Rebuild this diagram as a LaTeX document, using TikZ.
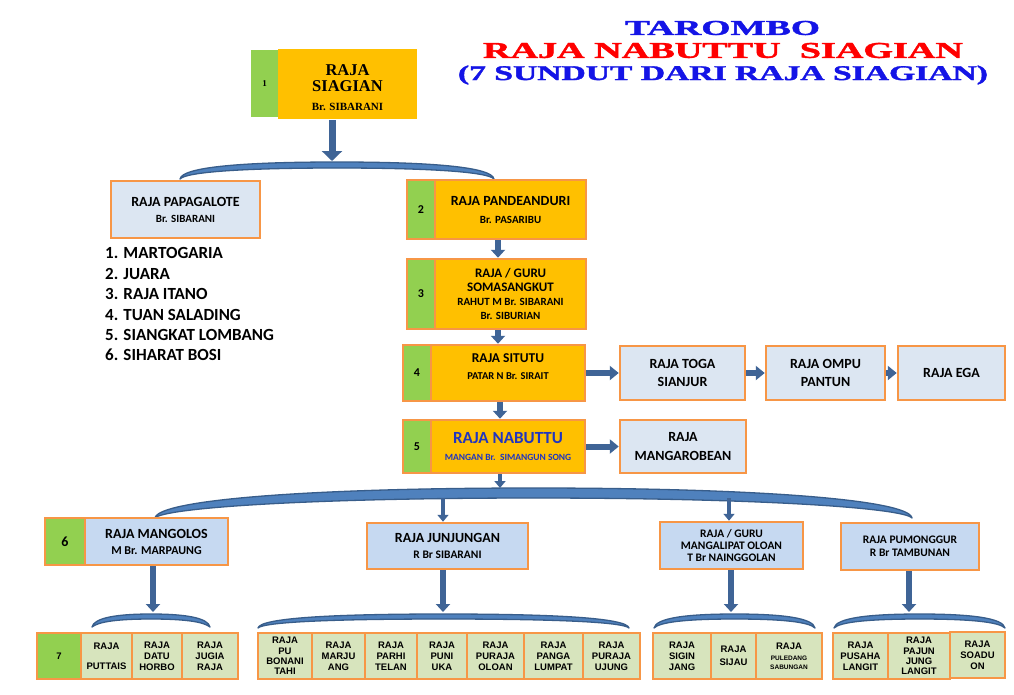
\documentclass[tikz,border=0pt]{standalone}
\usepackage{fontspec}
\usepackage{graphicx}
\setmainfont{Carlito}
\newfontfamily\serif{Liberation Serif}
\newfontfamily\arial{Liberation Sans}
\newfontfamily\titlefont[BoldFeatures={FakeBold=1.5}]{Liberation Serif}
\usetikzlibrary{arrows.meta}
\definecolor{orfill}{HTML}{FFC000}
\definecolor{grfill}{HTML}{92D050}
\definecolor{bord}{HTML}{F79646}
\definecolor{ltblue}{HTML}{DCE6F2}
\definecolor{mdblue}{HTML}{C6D9F1}
\definecolor{leafgr}{HTML}{D7E4BD}
\definecolor{arrblue}{HTML}{3F6496}
\definecolor{brdark}{HTML}{385D8A}
\definecolor{brlight}{HTML}{4F81BD}
\definecolor{titleblue}{HTML}{1414E6}
\definecolor{titlered}{HTML}{FF0000}
\definecolor{nabblue}{HTML}{2035C0}
\begin{document}
\begin{tikzpicture}[x=1pt,y=-1pt,
  box/.style={draw=bord, line width=2.5pt, inner sep=1pt, align=center, font=\bfseries},
  orbox/.style={box, fill=orfill},
  numbox/.style={box, fill=grfill},
  lbbox/.style={box, fill=ltblue},
  mbbox/.style={box, fill=mdblue},
  leaf/.style={box, fill=leafgr, minimum height=46pt, font=\arial\bfseries\fontsize{9.5}{10.8}\selectfont},
  bigarrow/.style={line width=7pt, draw=arrblue, -{Triangle[width=20pt,length=10pt]}},
  varrow/.style={line width=6pt, draw=arrblue, -{Triangle[width=14pt,length=8pt]}},
  harrow/.style={line width=6pt, draw=arrblue, -{Triangle[width=14pt,length=9pt]}},
  sarrow/.style={line width=4.5pt, draw=arrblue, -{Triangle[width=11pt,length=7pt]}},
  brk/.style={fill=brlight, draw=brdark, line width=1.3pt, line join=round}
]
\useasboundingbox (0,0) rectangle (1014,694);
\fill[white] (0,0) rectangle (1014,694);

% title
\node[inner sep=0pt, text=titleblue] (t1) at (722.5,28) {\resizebox{195pt}{14pt}{\titlefont\bfseries TAROMBO}};
\node[inner sep=0pt, text=titlered] (t2) at (723,50.5) {\resizebox{480pt}{15pt}{\titlefont\bfseries RAJA NABUTTU\ \ SIAGIAN}};
\node[inner sep=0pt, text=titleblue] (t3) at (723,75) {\resizebox*{530pt}{19pt}{\titlefont\bfseries (7 SUNDUT DARI RAJA SIAGIAN)}};

% generation 1
\node[numbox, draw=none, minimum width=27pt, minimum height=67pt] (g1) at (264.5,83.5) {\serif\fontsize{9}{10}\selectfont 1};
\node[orbox, draw=none, minimum width=139pt, minimum height=70pt, font=\bfseries\serif\fontsize{16.5}{16}\selectfont] (n1) at (347.5,84) {\mbox{}\\[3pt]RAJA\\SIAGIAN\\[3pt]{\fontsize{11}{12}\selectfont Br. SIBARANI}};

% top bracket
\draw[brk] (180,179) .. controls (182,167) and (242.8,162) .. (337,162) .. controls (431.2,162) and (492,167) .. (494,179) .. controls (488,172) and (431.2,168) .. (337,168) .. controls (242.8,168) and (186,172) .. cycle;
\coordinate (tb) at (332,161);
\draw[bigarrow] ([xshift=-15.5pt]n1.south) -- (tb);

% generation 2
\node[lbbox, minimum width=149pt, minimum height=57pt, font=\bfseries\fontsize{14}{16}\selectfont] (pap) at (185.5,209.5) {RAJA PAPAGALOTE\\{\fontsize{11}{13}\selectfont Br. SIBARANI}};
\node[anchor=north west, inner sep=0pt, align=left, font=\bfseries\fontsize{17}{20.4}\selectfont] (list) at (105,247.5) {1. MARTOGARIA\\2. JUARA\\3. RAJA ITANO\\4. TUAN SALADING\\5. SIANGKAT LOMBANG\\6. SIHARAT BOSI};

\node[numbox, minimum width=28pt, minimum height=59pt] (g2) at (421,209.5) {\fontsize{12}{14}\selectfont 2};
\node[orbox, minimum width=151pt, minimum height=59pt, font=\bfseries\fontsize{14}{18}\selectfont] (n2) at (510.5,209.5) {RAJA PANDEANDURI\\{\fontsize{11}{13}\selectfont Br. PASARIBU}};

% generation 3
\node[numbox, minimum width=28pt, minimum height=70pt] (g3) at (421,294) {\fontsize{12}{14}\selectfont 3};
\node[orbox, minimum width=151pt, minimum height=70pt, font=\bfseries\fontsize{13}{14.3}\selectfont] (n3) at (510.5,294) {RAJA / GURU\\SOMASANGKUT\\{\fontsize{11}{12}\selectfont RAHUT M Br. SIBARANI}\\{\fontsize{11}{12}\selectfont Br. SIBURIAN}};

% generation 4
\node[numbox, minimum width=28pt, minimum height=56pt] (g4) at (417,373) {\fontsize{12}{14}\selectfont 4};
\node[orbox, minimum width=154pt, minimum height=56pt, font=\bfseries\fontsize{13.5}{17}\selectfont] (n4) at (508,373) {RAJA SITUTU\\{\fontsize{10.5}{12}\selectfont PATAR N Br. SIRAIT}\\[-4pt]\mbox{}};
\node[lbbox, minimum width=125pt, minimum height=54pt, font=\bfseries\fontsize{14}{18}\selectfont] (toga) at (682.5,373) {RAJA TOGA\\SIANJUR};
\node[lbbox, minimum width=119pt, minimum height=54pt, font=\bfseries\fontsize{14}{18}\selectfont] (ompu) at (825.5,373) {RAJA OMPU\\PANTUN};
\node[lbbox, minimum width=107pt, minimum height=54pt, font=\bfseries\fontsize{14}{18}\selectfont] (ega) at (951.5,373) {RAJA EGA};

% generation 5
\node[numbox, minimum width=28pt, minimum height=53pt] (g5) at (417,446.5) {\fontsize{12}{14}\selectfont 5};
\node[orbox, minimum width=154pt, minimum height=53pt, text=nabblue, font=\bfseries\fontsize{17}{17}\selectfont] (n5) at (508,446.5) {RAJA NABUTTU\\{\fontsize{9.5}{11}\selectfont MANGAN Br.\ \ SIMANGUN SONG}};
\node[lbbox, minimum width=126pt, minimum height=53pt, font=\bfseries\fontsize{14}{19}\selectfont] (mgr) at (683,446.5) {RAJA\\MANGAROBEAN};

% connectors of the main line
\draw[varrow] ([xshift=-12.5pt]n2.south) -- ([xshift=-12.5pt]n3.north);
\draw[varrow] ([xshift=-12.5pt]n3.south) -- ([xshift=-10pt]n4.north);
\draw[varrow] ([xshift=-8pt]n4.south) -- ([xshift=-8pt]n5.north);
\draw[harrow] (n4.east) -- (toga.west);
\draw[harrow] (toga.east) -- (ompu.west);
\draw[harrow] (ompu.east) -- (ega.west);
\draw[harrow] (n5.east) -- (mgr.west);

% big bracket
\draw[brk] (155,518) .. controls (158,500) and (306,488) .. (533.5,488) .. controls (761,488) and (909,500) .. (912,518) .. controls (903,508) and (761,498) .. (533.5,498) .. controls (306,498) and (164,508) .. cycle;
\coordinate (bb) at (500,488);
\draw[sarrow] ([xshift=-8pt]n5.south) -- (bb);

% generation 6
\node[numbox, minimum width=40pt, minimum height=47pt] (g6) at (65,541.5) {\fontsize{14}{16}\selectfont 6};
\node[mbbox, minimum width=143pt, minimum height=47pt, font=\bfseries\fontsize{14}{16}\selectfont] (mgl) at (156.5,541.5) {RAJA MANGOLOS\\{\fontsize{12}{14}\selectfont M Br. MARPAUNG}};
\node[mbbox, minimum width=161pt, minimum height=46pt, font=\bfseries\fontsize{14}{16}\selectfont] (jun) at (447.5,546) {RAJA JUNJUNGAN\\{\fontsize{11.5}{13}\selectfont R Br SIBARANI}};
\node[mbbox, minimum width=143pt, minimum height=47pt, font=\bfseries\fontsize{11.5}{12.3}\selectfont] (mlp) at (731.5,545.5) {RAJA / GURU\\MANGALIPAT OLOAN\\T Br NAINGGOLAN};
\node[mbbox, minimum width=138pt, minimum height=47pt, font=\bfseries\fontsize{11.5}{13.5}\selectfont] (pmg) at (910,546.5) {RAJA PUMONGGUR\\R Br TAMBUNAN};

\coordinate (bj) at (443,498);
\coordinate (bm) at (729,498);
\draw[sarrow] (bj) -- ([xshift=-4.5pt]jun.north);
\draw[sarrow] (bm) -- ([xshift=-2.5pt]mlp.north);

% small brackets
\draw[brk] (92,627) .. controls (94,618) and (115.6,614) .. (151,614) .. controls (186.4,614) and (208,618) .. (210,627) .. controls (204,622) and (186.4,619) .. (151,619) .. controls (115.6,619) and (98,622) .. cycle;
\draw[brk] (258,628) .. controls (260,618) and (332.2,614) .. (443.5,614) .. controls (554.8,614) and (627,618) .. (629,628) .. controls (623,622) and (554.8,619) .. (443.5,619) .. controls (332.2,619) and (264,622) .. cycle;
\draw[brk] (654,628) .. controls (656,618) and (686.2,614) .. (734.5,614) .. controls (782.8,614) and (813,618) .. (815,628) .. controls (809,622) and (782.8,619) .. (734.5,619) .. controls (686.2,619) and (660,622) .. cycle;
\draw[brk] (834,628) .. controls (836,618) and (868.2,614) .. (919.5,614) .. controls (970.8,614) and (1003,618) .. (1005,628) .. controls (999,622) and (970.8,619) .. (919.5,619) .. controls (868.2,619) and (840,622) .. cycle;

\coordinate (s1) at (153,612);
\coordinate (s2) at (443,612);
\coordinate (s3) at (731,612);
\coordinate (s4) at (909,612);
\draw[varrow] ([xshift=-3.5pt]mgl.south) -- (s1);
\draw[varrow] ([xshift=-4.5pt]jun.south) -- (s2);
\draw[varrow] ([xshift=-0.5pt]mlp.south) -- (s3);
\draw[varrow] ([xshift=-1pt]pmg.south) -- (s4);

% generation 7
\node[numbox, minimum width=44pt, minimum height=46pt] (g7) at (59,656) {\arial\fontsize{9.5}{10}\selectfont 7};
\node[leaf, minimum width=51pt] (l1) at (106.5,656) {RAJA\\[9pt]PUTTAIS};
\node[leaf, minimum width=50pt] (l2) at (157,656) {RAJA\\DATU\\HORBO};
\node[leaf, minimum width=56pt] (l3) at (210,656) {RAJA\\JUGIA\\RAJA};

\node[leaf, minimum width=54pt, font=\arial\bfseries\fontsize{9.5}{10.2}\selectfont] (m1) at (285,656) {RAJA\\PU\\BONANI\\TAHI};
\node[leaf, minimum width=53pt] (m2) at (338.5,656) {RAJA\\MARJU\\ANG};
\node[leaf, minimum width=52pt] (m3) at (391,656) {RAJA\\PARHI\\TELAN};
\node[leaf, minimum width=50pt] (m4) at (442,656) {RAJA\\PUNI\\UKA};
\node[leaf, minimum width=57pt] (m5) at (495.5,656) {RAJA\\PURAJA\\OLOAN};
\node[leaf, minimum width=59pt] (m6) at (553.5,656) {RAJA\\PANGA\\LUMPAT};
\node[leaf, minimum width=57pt] (m7) at (611.5,656) {RAJA\\PURAJA\\UJUNG};

\node[leaf, minimum width=58pt] (r1) at (682,656) {RAJA\\SIGIN\\JANG};
\node[leaf, minimum width=45pt, font=\arial\bfseries\fontsize{9.5}{13}\selectfont] (r2) at (733.5,656) {RAJA\\SIJAU};
\node[leaf, minimum width=66pt] (r3) at (789,656) {RAJA\\{\fontsize{6.5}{8}\selectfont PULEDANG}\\[-2pt]{\fontsize{6.5}{8}\selectfont SABUNGAN}};

\node[leaf, minimum width=55pt] (q1) at (860.5,656) {RAJA\\PUSAHA\\LANGIT};
\node[leaf, minimum width=62pt, font=\arial\bfseries\fontsize{9.5}{10.2}\selectfont] (q2) at (919,656) {RAJA\\PAJUN\\JUNG\\LANGIT};
\node[leaf, minimum width=55pt] (q3) at (977.5,655) {RAJA\\SOADU\\ON};
\end{tikzpicture}
\end{document}
